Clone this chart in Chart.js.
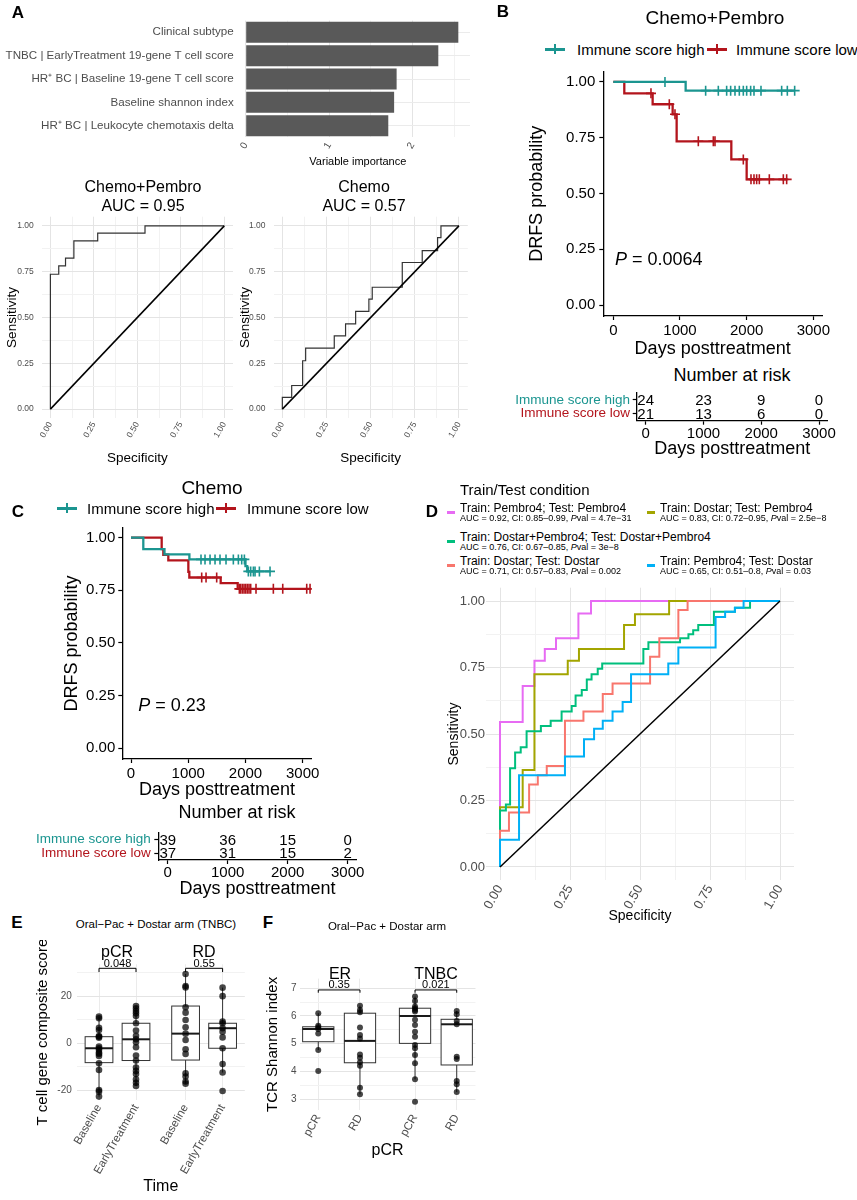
<!DOCTYPE html>
<html>
<head>
<meta charset="utf-8">
<script src="https://cdn.jsdelivr.net/npm/chart.js@4.4.1/dist/chart.umd.min.js"></script>
<style>
  body { margin: 0; background: #fff; font-family: "Liberation Sans", Arial, Helvetica, sans-serif; }
  #page { position: relative; width: 857px; height: 1200px; overflow: hidden; background: #fff; }
  .box { position: absolute; }
  .txt { position: absolute; white-space: nowrap; line-height: 1; color: #000; }
  .sw { position: absolute; }
</style>
</head>
<body>
<div id="page"></div>
<script>
// ---------- data ----------
const impLabels = ["Clinical subtype", "TNBC | EarlyTreatment 19-gene T cell score", "HR⁺ BC | Baseline 19-gene T cell score", "Baseline shannon index", "HR⁺ BC | Leukocyte chemotaxis delta"]
const impValues = [2.55, 2.31, 1.81, 1.78, 1.71]

const rocPembroX = [0, 0, 0.048, 0.087, 0.135, 0.272, 0.544, 1]
const rocPembroY = [0, 0.736, 0.782, 0.824, 0.918, 0.96, 1, 1]
const rocChemoX = [0, 0, 0.053, 0.115, 0.132, 0.294, 0.358, 0.415, 0.49, 0.509, 0.679, 0.792, 0.879, 0.898, 1]
const rocChemoY = [0, 0.064, 0.129, 0.264, 0.333, 0.4, 0.465, 0.533, 0.6, 0.665, 0.8, 0.865, 0.936, 1, 1]

const dayTicks = [0, 1000, 2000, 3000]
const kmHighBT = [0, 1085, 2720]
const kmHighBS = [1, 0.961, 0.961]
const censHighB = [775, 1385, 1575, 1700, 1760, 1825, 1890, 1950, 2000, 2060, 2110, 2215, 2525, 2610, 2720]
const kmLowBT = [0, 165, 590, 890, 950, 1770, 2000, 2600]
const kmLowBS = [1, 0.949, 0.9, 0.855, 0.734, 0.653, 0.5635, 0.5635]
const censLowB = [565, 840, 925, 1275, 1500, 1525, 1950, 2065, 2110, 2150, 2190, 2340, 2550, 2600]

const kmHighCT = [0, 215, 585, 1020, 2000, 2030, 2440]
const kmHighCS = [1, 0.946, 0.921, 0.897, 0.865, 0.84, 0.84]
const censHighC = [1223, 1293, 1381, 1468, 1555, 1660, 1788, 1876, 1934, 1981, 2050, 2091, 2138, 2167, 2243, 2429]
const kmLowCT = [0, 536, 565, 652, 1002, 1019, 1567, 1864, 3140]
const kmLowCS = [1, 0.946, 0.919, 0.892, 0.838, 0.811, 0.784, 0.757, 0.757]
const censLowC = [1235, 1311, 1497, 1893, 1916, 1946, 1975, 2004, 2033, 2062, 2091, 2184, 2487, 2651, 3070, 3128]

const riskRows = ["Immune score high", "Immune score low"]
const riskHighB = [24, 23, 9, 0]
const riskLowB = [21, 13, 6, 0]
const riskHighC = [39, 36, 15, 0]
const riskLowC = [37, 31, 15, 2]

const rocD = [
  { color: "#E76BF3", x: [0, 0, 0.081, 0.123, 0.16, 0.2, 0.28, 0.325, 1], y: [0, 0.545, 0.68, 0.775, 0.82, 0.86, 0.953, 1, 1] },
  { color: "#A3A500", x: [0, 0, 0.081, 0.123, 0.242, 0.282, 0.443, 0.482, 0.604, 1], y: [0, 0.225, 0.365, 0.725, 0.775, 0.82, 0.91, 0.95, 1, 1] },
  { color: "#00BF7D", x: [0, 0, 0.021, 0.036, 0.054, 0.074, 0.095, 0.146, 0.181, 0.22, 0.256, 0.27, 0.292, 0.31, 0.327, 0.349, 0.365, 0.512, 0.53, 0.643, 0.673, 0.69, 0.708, 0.764, 0.839, 0.893, 1],
    y: [0, 0.2125, 0.235, 0.371, 0.43, 0.45, 0.51, 0.53, 0.55, 0.585, 0.605, 0.645, 0.665, 0.705, 0.725, 0.745, 0.765, 0.82, 0.845, 0.86, 0.875, 0.89, 0.91, 0.96, 0.975, 1, 1] },
  { color: "#F8766D", x: [0, 0, 0.032, 0.104, 0.135, 0.167, 0.232, 0.298, 0.367, 0.402, 0.536, 0.569, 0.637, 0.67, 1], y: [0, 0.136, 0.205, 0.31, 0.345, 0.38, 0.55, 0.585, 0.65, 0.69, 0.79, 0.86, 0.966, 1, 1] },
  { color: "#00B0F6", x: [0, 0, 0.068, 0.232, 0.3, 0.336, 0.367, 0.402, 0.438, 0.468, 0.601, 0.637, 0.77, 0.804, 0.839, 0.87, 1], y: [0, 0.1025, 0.345, 0.415, 0.48, 0.52, 0.55, 0.585, 0.62, 0.725, 0.765, 0.825, 0.94, 0.96, 0.975, 1, 1] },
]

const eLabels = ["Baseline", "EarlyTreatment", "Baseline", "EarlyTreatment"]
const ePos = [0, 1, 2.34, 3.34]
const ePts = [
  [11.3, 10.6, 6.6, 5.6, 3.1, 2.8, 2.4, -1.4, -2.1, -2.8, -4, -4.5, -5.4, -8.5, -11.3, -19.8, -20.5, -22.6],
  [15.8, 14.8, 13.7, 12.7, 11.6, 8.5, 5.4, 3.2, 1.7, 0.4, -1.7, -5.2, -7.3, -10.3, -11.7, -13, -15.3, -16.7, -18.1],
  [29.4, 24.3, 23.7, 15.3, 13, 9.9, 6.8, 4.1, 1.4, -2.5, -4.5, -12.7, -14.1, -16.2, -17.1],
  [23.6, 20, 9.2, 8.5, 6.4, 4.9, 2.5, -2.1, -8.8, -12.4, -20.2],
]
const eLo = [-22.6, -18.1, -17.1, -12.4]
const eQ1 = [-8.2, -7.3, -7.1, -2.1]
const eMed = [-2.1, 1.7, 4.1, 6.4]
const eQ3 = [2.8, 8.5, 15.8, 8.5]
const eHi = [11.3, 15.8, 29.4, 23.6]
const ePvals = ["0.048", "0.55"]

const fLabels = ["pCR", "RD", "pCR", "RD"]
const fPos = [0, 1, 2.32, 3.32]
const fPts = [
  [6.1, 5.65, 5.59, 5.53, 5.37, 4.77, 4.01],
  [6.37, 6.22, 6.13, 5.58, 5.31, 5.19, 4.61, 4.49, 4.33, 4.2, 3.41, 3.17],
  [6.7, 6.54, 6.34, 6.28, 6.22, 6.16, 5.86, 5.67, 5.43, 5.25, 4.95, 4.83, 4.59, 4.29, 3.71, 2.9],
  [6.18, 6.06, 5.82, 5.7, 4.53, 4.45, 3.65, 3.53, 3.25],
]
const fLo = [4.77, 3.17, 3.71, 3.25]
const fQ1 = [5.07, 4.31, 5.01, 4.23]
const fMed = [5.53, 5.1, 6.0, 5.7]
const fQ3 = [5.61, 6.1, 6.28, 5.88]
const fHi = [6.1, 6.37, 6.7, 6.18]
const fPvals = ["0.35", "0.021"]

// ---------- helpers ----------
Chart.defaults.font.family = "'Liberation Sans', Arial, Helvetica, sans-serif"
Chart.defaults.animation = false
Chart.defaults.plugins.legend.display = false
Chart.defaults.plugins.tooltip.enabled = false
Chart.defaults.color = "#4d4d4d"

const TEAL = "#1b9590"
const RED = "#b3141c"
const page = document.getElementById("page")

function addCanvas(box) {
  const div = document.createElement("div")
  div.className = "box"
  div.style.left = box.x + "px"
  div.style.top = box.y + "px"
  const cv = document.createElement("canvas")
  cv.width = box.w
  cv.height = box.h
  cv.style.width = box.w + "px"
  cv.style.height = box.h + "px"
  div.appendChild(cv)
  page.appendChild(div)
  return cv
}

function frame(box, area) {
  return { L: area.x0 - box.x, T: area.y0 - box.y, R: box.x + box.w - area.x1, B: box.y + box.h - area.y1 }
}

function fitTo(size) {
  return (s) => {
    if (s.isHorizontal()) s.height = size
    else s.width = size
    s.paddingTop = 0
    s.paddingBottom = 0
    s.paddingLeft = 0
    s.paddingRight = 0
  }
}

function fixTicks(values) {
  return (s) => {
    s.ticks = values.map((v) => ({ value: v }))
  }
}

function txt(html, x, y, size, o) {
  o = o || {}
  const d = document.createElement("div")
  d.className = "txt"
  d.innerHTML = html
  d.style.left = x + "px"
  d.style.top = y + "px"
  d.style.fontSize = size + "px"
  const ax = o.align === "left" ? "0" : o.align === "right" ? "-100%" : "-50%"
  d.style.transform = "translate(" + ax + ", -50%)"
  if (o.color) d.style.color = o.color
  if (o.bold) d.style.fontWeight = "bold"
  page.appendChild(d)
}

function swatch(x, y, w, h, color) {
  const d = document.createElement("div")
  d.className = "sw"
  d.style.left = x + "px"
  d.style.top = y - h / 2 + "px"
  d.style.width = w + "px"
  d.style.height = h + "px"
  d.style.background = color
  page.appendChild(d)
}

function kmKey(x, y, color) {
  swatch(x, y, 20, 3, color)
  swatch(x + 9, y, 2, 10, color)
}

const xy = (xs, ys) => xs.map((v, i) => ({ x: v, y: ys[i] }))
const quarter = (v) => Math.abs(v * 4 - Math.round(v * 4)) < 1e-6
const rocGrid = [0, 0.125, 0.25, 0.375, 0.5, 0.625, 0.75, 0.875, 1]

function survAt(times, surv, t) {
  let s = surv[0]
  times.forEach((tt, i) => {
    if (tt <= t) s = surv[i]
  })
  return s
}

// ---------- panel A: variable importance ----------
const impBox = { x: 0, y: 12, w: 480, h: 166 }
const fImp = frame(impBox, { x0: 245.7, x1: 470, y0: 20.6, y1: 137.4 })
new Chart(addCanvas(impBox), {
  type: "bar",
  data: { labels: impLabels, datasets: [{ data: impValues, backgroundColor: "#595959", barPercentage: 0.9, categoryPercentage: 1 }] },
  options: {
    responsive: false,
    indexAxis: "y",
    layout: { padding: { top: fImp.T, right: fImp.R, left: 0, bottom: 0 } },
    scales: {
      x: {
        type: "linear", min: 0, max: 2.69, bounds: "data",
        afterFit: fitTo(fImp.B), afterBuildTicks: fixTicks([0, 0.5, 1, 1.5, 2, 2.5]),
        grid: { color: (c) => (Number.isInteger(c.tick.value) ? "#e4e4e4" : "#f2f2f2"), drawTicks: false },
        border: { display: false },
        ticks: { callback: (v) => (Number.isInteger(v) ? String(v) : ""), minRotation: 60, maxRotation: 60, autoSkip: false, font: { size: 10 }, padding: 3 },
        title: { display: true, text: "Variable importance", color: "#000", font: { size: 11 }, padding: { top: 0, bottom: 9 } },
      },
      y: {
        afterFit: fitTo(fImp.L),
        grid: { color: "#ebebeb", drawTicks: false, offset: false },
        border: { display: false },
        ticks: { font: { size: 11.6 }, padding: 12, color: "#4d4d4d", autoSkip: false },
      },
    },
  },
})

// ---------- panel A: ROC curves ----------
function rocOptions(f, o) {
  return {
    responsive: false,
    layout: { padding: { top: f.T, right: f.R, left: 0, bottom: 0 } },
    scales: {
      x: {
        type: "linear", min: -0.05, max: 1.05, bounds: "data",
        afterFit: fitTo(f.B), afterBuildTicks: fixTicks(rocGrid),
        grid: { color: (c) => (quarter(c.tick.value) ? "#e4e4e4" : "#f2f2f2"), drawTicks: false },
        border: { display: false },
        ticks: { callback: (v) => (quarter(v) ? v.toFixed(2) : ""), minRotation: 60, maxRotation: 60, autoSkip: false, font: { size: o.tick }, padding: 2 },
        title: { display: true, text: "Specificity", color: "#000", font: { size: o.title }, padding: { top: 0, bottom: o.xPad } },
      },
      y: {
        type: "linear", min: -0.05, max: 1.05, bounds: "data",
        afterFit: fitTo(f.L), afterBuildTicks: fixTicks(rocGrid),
        grid: { color: (c) => (quarter(c.tick.value) ? "#e4e4e4" : "#f2f2f2"), drawTicks: false },
        border: { display: false },
        ticks: { callback: (v) => (quarter(v) ? v.toFixed(2) : ""), autoSkip: false, font: { size: o.tick }, padding: o.yTickPad },
        title: { display: true, text: "Sensitivity", color: "#000", font: { size: o.title }, padding: { top: o.yPad, bottom: 0 } },
      },
    },
  }
}

const diag = { data: [{ x: 0, y: 0 }, { x: 1, y: 1 }], showLine: true, borderColor: "#000", borderWidth: 1.5, pointRadius: 0 }

const rocLBox = { x: 0, y: 172, w: 240, h: 298 }
const fRocL = frame(rocLBox, { x0: 41.7, x1: 233, y0: 216.7, y1: 418.3 })
new Chart(addCanvas(rocLBox), {
  type: "scatter",
  data: { datasets: [diag, { data: xy(rocPembroX, rocPembroY), showLine: true, stepped: "before", borderColor: "#333", borderWidth: 1.2, pointRadius: 0 }] },
  options: rocOptions(fRocL, { tick: 8.5, title: 13.5, xPad: 4, yPad: 4, yTickPad: 8 }),
})

const rocRBox = { x: 234, y: 172, w: 241, h: 298 }
const fRocR = frame(rocRBox, { x0: 273.5, x1: 467.8, y0: 216.7, y1: 418.3 })
new Chart(addCanvas(rocRBox), {
  type: "scatter",
  data: { datasets: [diag, { data: xy(rocChemoX, rocChemoY), showLine: true, stepped: "before", borderColor: "#333", borderWidth: 1.2, pointRadius: 0 }] },
  options: rocOptions(fRocR, { tick: 8.5, title: 13.5, xPad: 4, yPad: 3, yTickPad: 8 }),
})

// ---------- KM curves ----------
function pLabel(tx, ty, value) {
  return {
    id: "pval",
    afterDatasetsDraw(chart) {
      const { ctx, scales } = chart
      const px = scales.x.getPixelForValue(tx)
      const py = scales.y.getPixelForValue(ty)
      ctx.save()
      ctx.fillStyle = "#000"
      ctx.textBaseline = "middle"
      ctx.textAlign = "left"
      ctx.font = "italic 18px 'Liberation Sans', Arial, sans-serif"
      ctx.fillText("P", px, py)
      const w = ctx.measureText("P").width
      ctx.font = "18px 'Liberation Sans', Arial, sans-serif"
      ctx.fillText(" = " + value, px + w, py)
      ctx.restore()
    },
  }
}

function kmSets(hiT, hiS, hiC, loT, loS, loC) {
  const line = (t, s, c) => ({ data: xy(t, s), showLine: true, stepped: "before", borderColor: c, borderWidth: 2.3, pointRadius: 0 })
  const cens = (ts, t, s, c) => ({ data: ts.map((v) => ({ x: v, y: survAt(t, s, v) })), pointStyle: "cross", pointRadius: 5, borderColor: c, borderWidth: 1.6, showLine: false })
  return [line(hiT, hiS, TEAL), cens(hiC, hiT, hiS, TEAL), line(loT, loS, RED), cens(loC, loT, loS, RED)]
}

function kmOptions(f, xr, yr, o) {
  return {
    responsive: false,
    layout: { padding: { top: f.T, right: f.R, left: 0, bottom: 0 } },
    scales: {
      x: {
        type: "linear", min: xr[0], max: xr[1], bounds: "data",
        afterFit: fitTo(f.B), afterBuildTicks: fixTicks(dayTicks),
        grid: { drawOnChartArea: false, drawTicks: true, tickLength: 4, tickColor: "#000", tickWidth: 1.2 },
        border: { display: true, color: "#000", width: 1.3 },
        ticks: { color: "#000", font: { size: 15 }, padding: 2, callback: (v) => String(v), maxRotation: 0, autoSkip: false },
        title: { display: true, text: "Days posttreatment", color: "#000", font: { size: 18 }, padding: { top: 0, bottom: o.xPad } },
      },
      y: {
        type: "linear", min: yr[0], max: yr[1], bounds: "data",
        afterFit: fitTo(f.L), afterBuildTicks: fixTicks([0, 0.25, 0.5, 0.75, 1]),
        grid: { drawOnChartArea: false, drawTicks: true, tickLength: 4, tickColor: "#000", tickWidth: 1.2 },
        border: { display: true, color: "#000", width: 1.3 },
        ticks: { color: "#000", font: { size: 15 }, padding: o.yTickPad, callback: (v) => v.toFixed(2), autoSkip: false },
        title: { display: true, text: "DRFS probability", color: "#000", font: { size: 18 }, padding: { top: o.yPad, bottom: 0 } },
      },
    },
  }
}

function riskPlugin(high, low) {
  return {
    id: "risk",
    afterDatasetsDraw(chart) {
      const { ctx, scales } = chart
      ctx.save()
      ctx.fillStyle = "#000"
      ctx.textAlign = "center"
      ctx.textBaseline = "middle"
      ctx.font = "15px 'Liberation Sans', Arial, sans-serif"
      ;[high, low].forEach((row, r) => {
        row.forEach((n, i) => {
          ctx.fillText(String(n), scales.x.getPixelForValue(dayTicks[i]), scales.y.getPixelForValue(r) + 1)
        })
      })
      ctx.restore()
    },
  }
}

function riskOptions(f, xr, o) {
  return {
    responsive: false,
    layout: { padding: { top: f.T, right: f.R, left: 0, bottom: 0 } },
    scales: {
      x: {
        type: "linear", min: xr[0], max: xr[1], bounds: "data",
        afterFit: fitTo(f.B), afterBuildTicks: fixTicks(dayTicks),
        grid: { drawOnChartArea: false, drawTicks: true, tickLength: 4, tickColor: "#000", tickWidth: 1.2 },
        border: { display: true, color: "#000", width: 1.3 },
        ticks: { color: "#000", font: { size: 15 }, padding: 0, callback: (v) => String(v), maxRotation: 0, autoSkip: false },
        title: { display: true, text: "Days posttreatment", color: "#000", font: { size: 18 }, padding: { top: 0, bottom: 0 } },
      },
      y: {
        type: "category", labels: riskRows, offset: true,
        afterFit: fitTo(f.L),
        grid: { drawOnChartArea: false, drawTicks: true, tickLength: 4, tickColor: "#000", tickWidth: 1.2, offset: false },
        border: { display: true, color: "#000", width: 1.3 },
        ticks: { color: (c) => (c.index === 0 ? TEAL : RED), font: { size: 13.5 }, padding: o.yTickPad, autoSkip: false },
      },
    },
  }
}

// panel B
const kmBBox = { x: 480, y: 60, w: 377, h: 300 }
const fKmB = frame(kmBBox, { x0: 603.3, x1: 822, y0: 71.7, y1: 316 })
new Chart(addCanvas(kmBBox), {
  type: "scatter",
  data: { datasets: kmSets(kmHighBT, kmHighBS, censHighB, kmLowBT, kmLowBS, censLowB) },
  options: kmOptions(fKmB, [-150, 3130], [-0.049, 1.046], { xPad: 0, yPad: 46, yTickPad: 4 }),
  plugins: [pLabel(25, 0.2, "0.0064")],
})

const riskBBox = { x: 480, y: 385, w: 377, h: 75 }
const fRiskB = frame(riskBBox, { x0: 636.7, x1: 827.7, y0: 393, y1: 420.7 })
new Chart(addCanvas(riskBBox), {
  type: "scatter",
  data: { datasets: [{ data: [] }] },
  options: riskOptions(fRiskB, [-156, 3150], { yTickPad: 2.7 }),
  plugins: [riskPlugin(riskHighB, riskLowB)],
})

// panel C
const kmCBox = { x: 0, y: 515, w: 420, h: 290 }
const fKmC = frame(kmCBox, { x0: 122.3, x1: 311.7, y0: 528, y1: 759 })
new Chart(addCanvas(kmCBox), {
  type: "scatter",
  data: { datasets: kmSets(kmHighCT, kmHighCS, censHighC, kmLowCT, kmLowCS, censLowC) },
  options: kmOptions(fKmC, [-152, 3157], [-0.051, 1.046], { xPad: 4, yPad: 61, yTickPad: 3 }),
  plugins: [pLabel(128, 0.2, "0.23")],
})

const riskCBox = { x: 0, y: 822, w: 420, h: 78 }
const fRiskC = frame(riskCBox, { x0: 158.3, x1: 356.7, y0: 832.5, y1: 860 })
new Chart(addCanvas(riskCBox), {
  type: "scatter",
  data: { datasets: [{ data: [] }] },
  options: riskOptions(fRiskC, [-157, 3150], { yTickPad: 3.6 }),
  plugins: [riskPlugin(riskHighC, riskLowC)],
})

// ---------- panel D ----------
const rocDBox = { x: 430, y: 575, w: 427, h: 350 }
const fRocD = frame(rocDBox, { x0: 486, x1: 794, y0: 587.7, y1: 880.3 })
new Chart(addCanvas(rocDBox), {
  type: "scatter",
  data: {
    datasets: [diag].concat(rocD.slice().reverse().map((c) => ({ data: xy(c.x, c.y), showLine: true, stepped: "before", borderColor: c.color, borderWidth: 2, pointRadius: 0 }))),
  },
  options: rocOptions(fRocD, { tick: 13, title: 14, xPad: 0.6, yPad: 15.6, yTickPad: 1 }),
})

// ---------- panels E and F: box plots ----------
function boxPlugin(pos, lo, q1, med, q3, hi, pvals, level, leg) {
  return {
    id: "boxes",
    beforeDatasetsDraw(chart) {
      const { ctx, scales } = chart
      const x = scales.x
      const y = scales.y
      ctx.save()
      pos.forEach((p, i) => {
        const xl = x.getPixelForValue(p - 0.375)
        const xr = x.getPixelForValue(p + 0.375)
        const xc = x.getPixelForValue(p)
        const yt = y.getPixelForValue(q3[i])
        const yb = y.getPixelForValue(q1[i])
        ctx.strokeStyle = "#333"
        ctx.lineWidth = 1
        ctx.beginPath()
        ctx.moveTo(xc, y.getPixelForValue(hi[i]))
        ctx.lineTo(xc, yt)
        ctx.moveTo(xc, yb)
        ctx.lineTo(xc, y.getPixelForValue(lo[i]))
        ctx.stroke()
        ctx.fillStyle = "#fff"
        ctx.fillRect(xl, yt, xr - xl, yb - yt)
        ctx.strokeRect(xl, yt, xr - xl, yb - yt)
        const ym = y.getPixelForValue(med[i])
        ctx.lineWidth = 2
        ctx.strokeStyle = "#1a1a1a"
        ctx.beginPath()
        ctx.moveTo(xl, ym)
        ctx.lineTo(xr, ym)
        ctx.stroke()
      })
      ctx.restore()
    },
    afterDatasetsDraw(chart) {
      const { ctx, scales } = chart
      const x = scales.x
      const y = scales.y
      ctx.save()
      ctx.strokeStyle = "#000"
      ctx.lineWidth = 1
      ctx.fillStyle = "#000"
      ctx.textAlign = "center"
      ctx.textBaseline = "bottom"
      ctx.font = "11px 'Liberation Sans', Arial, sans-serif"
      pvals.forEach((t, k) => {
        const xa = x.getPixelForValue(pos[2 * k])
        const xb = x.getPixelForValue(pos[2 * k + 1])
        const yl = y.getPixelForValue(level)
        const yg = y.getPixelForValue(level - leg)
        ctx.beginPath()
        ctx.moveTo(xa, yg)
        ctx.lineTo(xa, yl)
        ctx.lineTo(xb, yl)
        ctx.lineTo(xb, yg)
        ctx.stroke()
        ctx.fillText(t, (xa + xb) / 2, yl + 1)
      })
      ctx.restore()
    },
  }
}

function boxOptions(f, xr, yr, yTicks, majors, labels, pos, o) {
  return {
    responsive: false,
    layout: { padding: { top: f.T, right: f.R, left: 0, bottom: 0 } },
    scales: {
      x: {
        type: "linear", min: xr[0], max: xr[1], bounds: "data",
        afterFit: fitTo(f.B), afterBuildTicks: fixTicks(pos),
        grid: { color: "#ebebeb", drawTicks: false },
        border: { display: false },
        ticks: { callback: (v, i) => labels[i], minRotation: 60, maxRotation: 60, autoSkip: false, font: { size: 11.5 }, padding: 2, color: "#4d4d4d" },
        title: { display: true, text: o.xTitle, color: "#000", font: { size: 16, lineHeight: 1 }, padding: { top: 0, bottom: o.xPad } },
      },
      y: {
        type: "linear", min: yr[0], max: yr[1], bounds: "data",
        afterFit: fitTo(f.L), afterBuildTicks: fixTicks(yTicks),
        grid: { color: (c) => (majors.includes(c.tick.value) ? "#e4e4e4" : "#f2f2f2"), drawTicks: false },
        border: { display: false },
        ticks: { callback: (v) => (majors.includes(v) ? String(v) : ""), autoSkip: false, font: { size: 10 }, padding: o.yTickPad, color: "#4d4d4d" },
        title: { display: true, text: o.yTitle, color: "#000", font: { size: 15 }, padding: { top: o.yPad, bottom: 0 } },
      },
    },
  }
}

const pointsOf = (pts, pos) => pts.flatMap((vals, i) => vals.map((v) => ({ x: pos[i], y: v })))

const eBox = { x: 0, y: 940, w: 250, h: 255 }
const fE = frame(eBox, { x0: 76.8, x1: 244.8, y0: 964.3, y1: 1099.9 })
new Chart(addCanvas(eBox), {
  type: "scatter",
  data: { datasets: [{ data: pointsOf(ePts, ePos), backgroundColor: "rgba(0,0,0,0.72)", borderWidth: 0, pointRadius: 3.3 }] },
  options: boxOptions(fE, [-0.6, 3.94], [-24, 33.5], [-20, -10, 0, 10, 20, 30], [-20, 0, 20], eLabels, ePos,
    { xTitle: "Time", yTitle: "T cell gene composite score", xPad: 0, yPad: 34, yTickPad: 5 }),
  plugins: [boxPlugin(ePos, eLo, eQ1, eMed, eQ3, eHi, ePvals, 31.8, 1.6)],
})

const fBox = { x: 250, y: 945, w: 235, h: 250 }
const fF = frame(fBox, { x0: 299.5, x1: 475.5, y0: 978.6, y1: 1110.1 })
new Chart(addCanvas(fBox), {
  type: "scatter",
  data: { datasets: [{ data: pointsOf(fPts, fPos), backgroundColor: "rgba(0,0,0,0.72)", borderWidth: 0, pointRadius: 3 }] },
  options: boxOptions(fF, [-0.45, 3.77], [2.6, 7.35], [3, 3.5, 4, 4.5, 5, 5.5, 6, 6.5, 7], [3, 4, 5, 6, 7], fLabels, fPos,
    { xTitle: "pCR", yTitle: "TCR Shannon index", xPad: 36, yPad: 14, yTickPad: 3 }),
  plugins: [boxPlugin(fPos, fLo, fQ1, fMed, fQ3, fHi, fPvals, 6.94, 0.1)],
})

// ---------- text outside the plot areas ----------
txt("A", 18, 12, 17, { bold: true })
txt("B", 503, 11, 17, { bold: true })
txt("C", 18, 511, 17, { bold: true })
txt("D", 432, 511, 17, { bold: true })
txt("E", 17, 922, 17, { bold: true })
txt("F", 268, 922, 17, { bold: true })

txt("Chemo+Pembro", 143, 187, 16)
txt("AUC = 0.95", 143, 206, 16)
txt("Chemo", 364, 187, 16)
txt("AUC = 0.57", 364, 206, 16)

txt("Chemo+Pembro", 715, 17, 19)
kmKey(545, 49, TEAL)
txt("Immune score high", 577, 49, 15, { align: "left" })
kmKey(707, 49, RED)
txt("Immune score low", 736, 49, 15, { align: "left" })
txt("Number at risk", 732, 375, 18)

txt("Chemo", 212, 487, 19)
kmKey(57, 508, TEAL)
txt("Immune score high", 87, 508, 15, { align: "left" })
kmKey(216, 508, RED)
txt("Immune score low", 247, 508, 15, { align: "left" })
txt("Number at risk", 237, 812, 18)

txt("Train/Test condition", 460, 489, 15, { align: "left" })
const legD = [
  { c: rocD[0].color, x: 447, y: 508, t: "Train: Pembro4; Test: Pembro4", s: "AUC = 0.92, CI: 0.85–0.99, <i>P</i>val = 4.7e−31" },
  { c: rocD[1].color, x: 647, y: 508, t: "Train: Dostar; Test: Pembro4", s: "AUC = 0.83, CI: 0.72–0.95, <i>P</i>val = 2.5e−8" },
  { c: rocD[2].color, x: 447, y: 537, t: "Train: Dostar+Pembro4; Test: Dostar+Pembro4", s: "AUC = 0.76, CI: 0.67–0.85, <i>P</i>val = 3e−8" },
  { c: rocD[3].color, x: 447, y: 561, t: "Train: Dostar; Test: Dostar", s: "AUC = 0.71, CI: 0.57–0.83, <i>P</i>val = 0.002" },
  { c: rocD[4].color, x: 647, y: 561, t: "Train: Pembro4; Test: Dostar", s: "AUC = 0.65, CI: 0.51–0.8, <i>P</i>val = 0.03" },
]
legD.forEach((l) => {
  swatch(l.x, l.y + 4, 8, 3, l.c)
  txt(l.t, l.x + 13, l.y, 12, { align: "left" })
  txt(l.s, l.x + 13, l.y + 10, 9, { align: "left" })
})

txt("Oral−Pac + Dostar arm (TNBC)", 156, 925, 11.5)
txt("pCR", 117, 952, 16)
txt("RD", 204, 952, 16)
txt("Oral−Pac + Dostar arm", 387, 927, 11.5)
txt("ER", 340, 974, 16)
txt("TNBC", 436, 974, 16)
</script>
</body>
</html>
